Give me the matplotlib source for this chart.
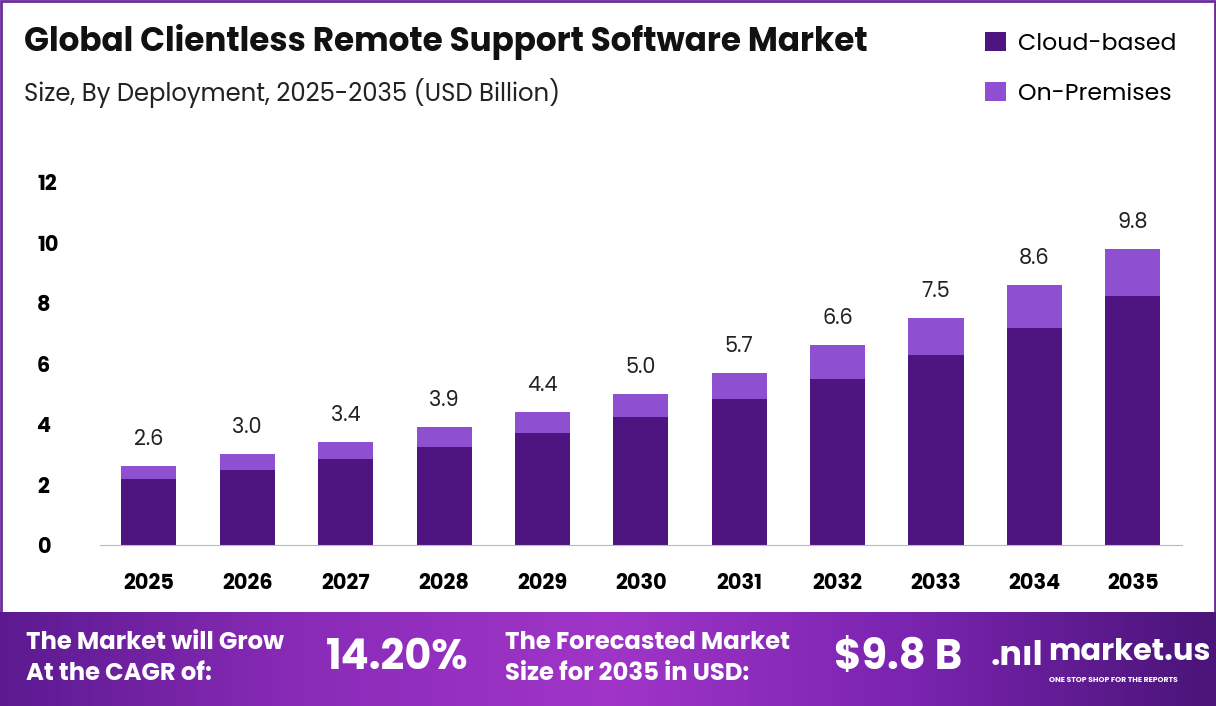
import numpy as np
import matplotlib.pyplot as plt
from matplotlib.colors import LinearSegmentedColormap

years = ['2025', '2026', '2027', '2028', '2029', '2030', '2031', '2032', '2033', '2034', '2035']
cloud = [2.18, 2.48, 2.84, 3.24, 3.70, 4.23, 4.83, 5.49, 6.28, 7.17, 8.22]
totals = [2.6, 3.0, 3.4, 3.9, 4.4, 5.0, 5.7, 6.6, 7.5, 8.6, 9.8]
on_prem = [t - c for t, c in zip(totals, cloud)]

plt.rcParams['font.family'] = ['Poppins', 'Lato', 'DejaVu Sans']
dark = '#4E1580'
light = '#8E4FD0'

fig = plt.figure(figsize=(12.16, 7.06), dpi=100)

# border
bg = fig.add_axes([0, 0, 1, 1])
bg.set_xlim(0, 1); bg.set_ylim(0, 1); bg.axis('off')
bg.add_patch(plt.Rectangle((0.001, 0.001), 0.998, 0.997, fill=False, ec='#6A2C9E', lw=2))

# bottom banner with gradient
ban = fig.add_axes([0, 0, 1, 94 / 706])
cmap = LinearSegmentedColormap.from_list('b', ['#5C1A90', '#8A2BB8', '#A035C8', '#7A24B0', '#4A1478'])
ban.imshow(np.linspace(0, 1, 256)[None, :], aspect='auto', cmap=cmap, extent=[0, 1, 0, 1])
ban.set_xlim(0, 1); ban.set_ylim(0, 1); ban.axis('off')
ban.text(0.021, 0.66, 'The Market will Grow', color='white', fontsize=17.5, fontweight='bold', va='center')
ban.text(0.021, 0.33, 'At the CAGR of:', color='white', fontsize=17.5, fontweight='bold', va='center')
ban.text(0.268, 0.5, '14.20%', color='white', fontsize=30, fontweight='bold', va='center')
ban.text(0.415, 0.66, 'The Forecasted Market', color='white', fontsize=17.5, fontweight='bold', va='center')
ban.text(0.415, 0.33, 'Size for 2035 in USD:', color='white', fontsize=17.5, fontweight='bold', va='center')
ban.text(0.686, 0.5, '$9.8 B', color='white', fontsize=30, fontweight='bold', va='center')
ban.text(0.862, 0.56, 'market.us', color='white', fontsize=22, fontweight='bold', va='center')
ban.text(0.863, 0.27, 'ONE STOP SHOP FOR THE REPORTS', color='white', fontsize=5.5, fontweight='bold', va='center')
ban.text(0.815, 0.52, '.nıl', color='white', fontsize=24, fontweight='bold', va='center')

# titles
fig.text(0.02, 0.94, 'Global Clientless Remote Support Software Market', fontsize=23.5, fontweight='bold', color='#111111', va='center')
fig.text(0.02, 0.868, 'Size, By Deployment, 2025-2035 (USD Billion)', fontsize=17.5, color='#222222', va='center')

ax = fig.add_axes([0.082, 0.228, 0.89, 0.514])
x = np.arange(len(years))
ax.bar(x, cloud, width=0.56, color=dark, label='Cloud-based')
ax.bar(x, on_prem, width=0.56, bottom=cloud, color=light, label='On-Premises')
for xi, t in zip(x, totals):
    ax.text(xi, t + 0.5, f'{t:.1f}', ha='center', va='bottom', fontsize=15, color='#222222')
ax.set_xlim(-0.5, 10.5)
ax.set_ylim(0, 12)
ax.set_yticks(range(0, 13, 2))
ax.set_xticks(x)
ax.set_xticklabels(years, fontsize=15, fontweight='bold')
ax.tick_params(axis='y', labelsize=15, length=0, pad=45)
ax.tick_params(axis='x', length=0, pad=20)
for lab in ax.get_yticklabels():
    lab.set_fontweight('bold')
    lab.set_horizontalalignment('left')
for s in ['top', 'right', 'left']:
    ax.spines[s].set_visible(False)
ax.spines['bottom'].set_color('#BBBBBB')

fig.legend(loc='upper right', bbox_to_anchor=(0.985, 0.985), frameon=False, fontsize=17,
           handlelength=0.9, handleheight=0.9, labelspacing=1.1, handletextpad=0.5)

fig.savefig('out.png', dpi=100)
